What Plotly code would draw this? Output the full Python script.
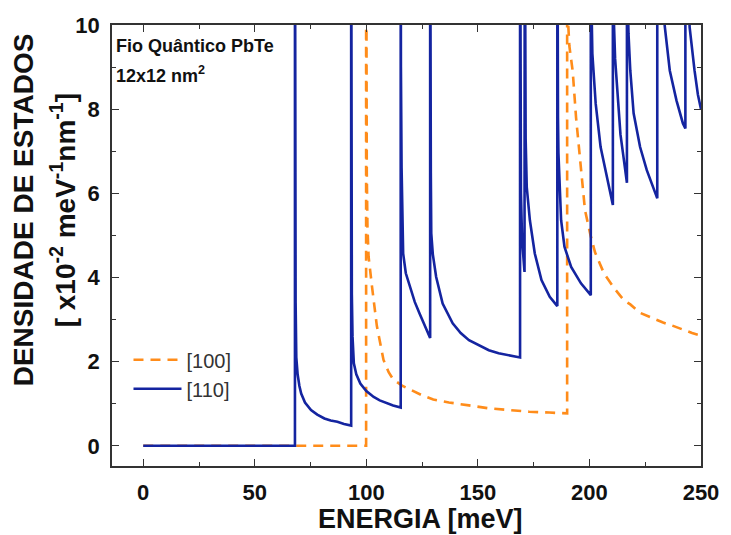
import plotly.graph_objects as go

# ---- data (energy in meV, DOS in x10^-2 meV^-1 nm^-1) ----
energy_100 = [0, 99.9, 99.9, 100.05, 100.2, 100.5, 101.0, 102.5, 104.7, 107.7, 110.0, 112.0,
              116.0, 119.5, 125.0, 130.0, 137.0, 146.0, 155.0, 164.0, 173.0, 182.0, 190.0,
              190.0, 190.1, 190.3, 191.0, 192.5, 194.0, 196.2, 198.0, 200.5, 202.5, 206.5,
              210.9, 215.4, 218.3, 222.7, 226.0, 230.1, 233.0, 237.5, 240.4, 246.0, 250.0]
dos_100 = [0, 0, 14, 9.0, 6.5, 5.2, 4.5, 3.8, 2.85, 2.04, 1.75, 1.58,
           1.43, 1.34, 1.2, 1.1, 1.03, 0.96, 0.89, 0.85, 0.81, 0.79, 0.77,
           14, 12, 10.2, 9.5, 8.9, 7.8, 6.55, 5.6, 5.0, 4.6, 4.1,
           3.76, 3.46, 3.36, 3.16, 3.08, 2.99, 2.93, 2.85, 2.79, 2.68, 2.62]

energy_110 = [0, 68.0,
              68.0, 68.1, 68.3, 68.6, 69.2, 70.0, 70.8, 72.5, 75.2, 78.0, 81.2, 84.0, 87.0, 90.0, 93.2,
              93.2, 93.3, 93.5, 93.8, 94.4, 95.5, 97.3, 100.0, 103.3, 106.0, 109.2, 112.0, 115.4,
              115.4, 115.5, 115.8, 116.5, 117.7, 119.5, 121.7, 123.9, 126.2, 128.6,
              128.6, 128.7, 128.9, 129.1, 129.8, 131.3, 134.2, 138.7, 142.3, 146.0, 150.5, 154.9,
              159.3, 163.7, 168.9,
              168.9, 169.0, 169.3, 169.8, 170.9,
              171.0, 171.1, 171.4, 171.9, 173.3, 175.5, 178.5, 182.2, 185.6,
              185.6, 185.7, 185.9, 186.1, 186.7, 187.3, 188.8, 191.8, 196.2, 200.6,
              200.6, 200.8, 201.3, 202.0, 202.8, 205.0, 208.0, 210.5,
              210.5, 210.7, 211.5, 212.4, 213.9, 215.3, 216.8,
              216.8, 217.0, 217.5, 218.3, 219.8, 222.7, 225.7, 228.6, 230.4,
              230.4, 231.0, 232.0, 233.8, 236.0, 239.0, 241.9, 243.0,
              243.0, 243.5, 244.2, 244.9, 247.1, 248.6, 250.0]
dos_110 = [0, 0,
           14, 6.0, 3.4, 2.1, 1.7, 1.42, 1.24, 1.03, 0.85, 0.74, 0.65, 0.6, 0.57, 0.52, 0.48,
           14, 6.0, 3.6, 2.6, 1.96, 1.7, 1.48, 1.3, 1.16, 1.08, 1.01, 0.96, 0.91,
           14, 9.0, 6.6, 4.57, 4.1, 3.78, 3.42, 3.14, 2.84, 2.56,
           14, 8.5, 6.5, 5.05, 4.55, 4.01, 3.38, 2.91, 2.68, 2.51, 2.38, 2.27,
           2.2, 2.15, 2.1,
           14, 8.0, 6.0, 4.9, 4.13,
           14, 9.0, 7.3, 6.15, 5.36, 4.57, 3.94, 3.54, 3.32,
           14, 9.5, 7.8, 6.95, 5.9, 5.36, 4.73, 4.25, 3.86, 3.58,
           14, 10.8, 9.32, 8.65, 8.13, 7.1, 6.31, 5.72,
           14, 10.5, 9.2, 8.5, 7.4, 6.85, 6.25,
           14, 11.0, 9.8, 8.92, 7.9, 7.1, 6.55, 6.15, 5.88,
           14, 12.5, 11.0, 9.95, 8.92, 8.21, 7.66, 7.54,
           14, 12.5, 11.0, 9.95, 8.92, 8.35, 8.0]

x_ticks = [0, 50, 100, 150, 200, 250]
y_ticks = [0, 2, 4, 6, 8, 10]
series_names = ["[100]", "[110]"]

ORANGE = "#ff8c1a"
BLUE = "#1424a0"
AXIS = "#333333"
FONT = "Liberation Sans, Arial, sans-serif"

fig = go.Figure()
fig.add_trace(go.Scatter(x=energy_100, y=dos_100, mode="lines", name=series_names[0],
                         line=dict(color=ORANGE, width=2.6, dash="10px,7px")))
fig.add_trace(go.Scatter(x=energy_110, y=dos_110, mode="lines", name=series_names[1],
                         line=dict(color=BLUE, width=2.6)))

axis_common = dict(showline=True, linecolor=AXIS, linewidth=1.5, mirror="ticks",
                   ticks="inside", ticklen=7, tickwidth=1.3, tickcolor=AXIS,
                   showgrid=False, zeroline=False,
                   tickfont=dict(family=FONT, size=22, color="#111111", weight="bold"))

fig.update_xaxes(range=[-14, 250], tickvals=x_ticks, ticklabelstandoff=6,
                 minor=dict(dtick=25, ticks="inside", ticklen=4, tickcolor=AXIS, tickwidth=1.2),
                 **axis_common)
fig.update_yaxes(range=[-0.48, 10], tickvals=y_ticks, ticklabelstandoff=6,
                 minor=dict(dtick=1, ticks="inside", ticklen=4, tickcolor=AXIS, tickwidth=1.2),
                 **axis_common)

fig.update_layout(
    width=731, height=535,
    margin=dict(l=112, r=23, t=25, b=69),
    paper_bgcolor="white", plot_bgcolor="white",
    showlegend=True,
    legend=dict(x=0.028, y=0.285, xanchor="left", yanchor="top",
                bgcolor="rgba(0,0,0,0)", borderwidth=0, tracegroupgap=0,
                itemwidth=48,
                font=dict(family=FONT, size=20, color="#333333")),
    annotations=[
        dict(text="Fio Quântico PbTe", xref="paper", yref="paper", x=0.004, y=0.952,
             xanchor="left", yanchor="middle", showarrow=False,
             font=dict(family=FONT, size=18, color="#111111", weight="bold")),
        dict(text="12x12 nm<sup>2</sup>", xref="paper", yref="paper", x=0.004, y=0.887,
             xanchor="left", yanchor="middle", showarrow=False,
             font=dict(family=FONT, size=18, color="#111111", weight="bold")),
        dict(text="DENSIDADE DE ESTADOS", xref="paper", yref="paper", x=-0.151, y=0.58,
             xanchor="center", yanchor="middle", textangle=-90, showarrow=False,
             font=dict(family=FONT, size=28, color="#111111", weight="bold")),
        dict(text="[ x10<sup>-2</sup> meV<sup>-1</sup>nm<sup>-1</sup>]", xref="paper", yref="paper",
             x=-0.083, y=0.58, xanchor="center", yanchor="middle", textangle=-90, showarrow=False,
             font=dict(family=FONT, size=28, color="#111111", weight="bold")),
        dict(text="ENERGIA [meV]", xref="paper", yref="paper", x=0.524, y=-0.12,
             xanchor="center", yanchor="middle", showarrow=False,
             font=dict(family=FONT, size=27, color="#111111", weight="bold")),
    ],
)

fig.write_html("out.html")
